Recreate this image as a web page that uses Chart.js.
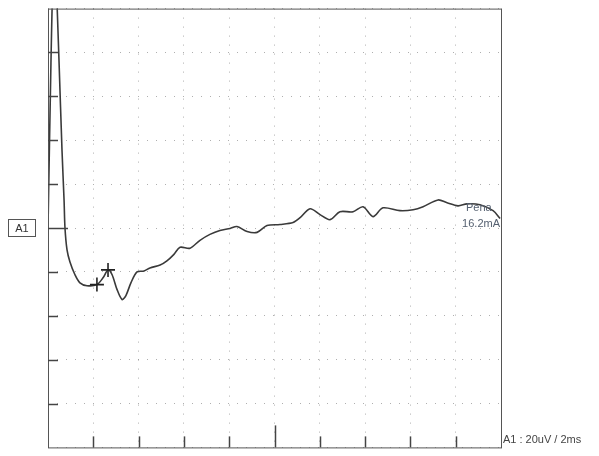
<!DOCTYPE html>
<html>
<head>
<meta charset="utf-8">
<script src="https://cdn.jsdelivr.net/npm/chart.js@4/dist/chart.umd.min.js"></script>
<style>
  html, body { margin: 0; padding: 0; background: #fff; overflow: hidden; }
  canvas { display: block; }
</style>
</head>
<body>
<canvas id="trace" width="599" height="456"></canvas>
<script>
// tiempo (ms) y amplitud (uV)
const tiempos = [0, 0.13, 0.22, 0.31, 0.40, 0.49, 0.62, 0.71, 0.75, 0.84, 0.97, 1.19, 1.41, 1.72, 2.16, 2.43, 2.65, 2.83, 3.05, 3.27, 3.44, 3.66, 3.93, 4.24, 4.50, 4.95, 5.25, 5.56, 5.83, 6.27, 6.71, 7.15, 7.59, 8.04, 8.34, 8.79, 9.23, 9.67, 10.24, 10.82, 11.13, 11.57, 12.01, 12.45, 12.89, 13.47, 13.91, 14.35, 14.79, 15.54, 16.12, 16.56, 17.22, 17.62, 18.1, 18.5, 19.07, 19.65, 19.96];
const amplitudes = [0, 75, 115, 130, 102, 75, 35, 12.4, 0, -10, -15.5, -21.3, -25, -26.3, -25.8, -22.7, -19.1, -21.3, -28.1, -32.6, -30.8, -25, -20, -19.6, -18.2, -16.9, -15, -12, -8.8, -9.2, -5.6, -2.9, -1.1, -0.2, 0.7, -1.6, -2.0, 1.1, 1.6, 2.5, 4.7, 8.8, 6.1, 3.8, 7.4, 7.4, 9.7, 5.2, 9.2, 7.9, 8.3, 9.7, 12.8, 11.5, 10.1, 11.0, 10.6, 7.9, 4.3];
// marcadores (cursores)
const marcasT = [2.16, 2.65];
const marcasV = [-25.8, -19.1];

const divX = [0, 2, 4, 6, 8, 10, 12, 14, 16, 18, 20];
const divY = [-100, -80, -60, -40, -20, 0, 20, 40, 60, 80, 100];

const puntos = tiempos.map((t, i) => ({ x: t, y: amplitudes[i] }));
const cursores = marcasT.map((t, i) => ({ x: t, y: marcasV[i] }));

// marco, marcas de division y textos
const marcoPlugin = {
    id: 'marco',
    afterDraw(chart) {
        const ctx = chart.ctx;
        const a = chart.chartArea;
        const sx = chart.scales.x, sy = chart.scales.y;
        ctx.save();
        ctx.strokeStyle = '#555';
        ctx.lineWidth = 1;
        ctx.strokeRect(a.left + 0.5, a.top + 0.5, a.right - a.left, a.bottom - a.top);

        ctx.strokeStyle = '#444';
        ctx.lineWidth = 1.5;
        divX.slice(1, -1).forEach(v => {
            const px = Math.round(sx.getPixelForValue(v)) + 0.5;
            const len = v === 10 ? 22 : 11;
            ctx.beginPath();
            ctx.moveTo(px, a.bottom);
            ctx.lineTo(px, a.bottom - len);
            ctx.stroke();
        });
        divY.slice(1, -1).forEach(v => {
            const py = Math.round(sy.getPixelForValue(v)) + 0.5;
            const len = v === 0 ? 20 : 10;
            ctx.beginPath();
            ctx.moveTo(a.left, py);
            ctx.lineTo(a.left + len, py);
            ctx.stroke();
        });

        // etiqueta A1
        const yc = sy.getPixelForValue(0);
        ctx.strokeStyle = '#555';
        ctx.lineWidth = 1;
        ctx.strokeRect(8.5, yc - 8.5, 27, 17);
        ctx.fillStyle = '#333';
        ctx.font = '11px "Liberation Sans", Arial, sans-serif';
        ctx.textBaseline = 'middle';
        ctx.textAlign = 'center';
        ctx.fillText('A1', 22, yc + 0.5);

        // ganancia
        ctx.textAlign = 'left';
        ctx.textBaseline = 'alphabetic';
        ctx.fillStyle = '#444';
        ctx.fillText('A1 : 20uV / 2ms', a.right + 2, a.bottom - 4);

        // estimulo
        ctx.fillStyle = '#556070';
        ctx.fillText('Pena', 466, 211);
        ctx.textAlign = 'right';
        ctx.fillText('16.2mA', a.right - 1, 227);
        ctx.restore();
    }
};

new Chart(document.getElementById('trace'), {
    type: 'scatter',
    data: {
        datasets: [{
            label: 'A1',
            data: puntos,
            showLine: true,
            borderColor: '#3a3a3a',
            borderWidth: 1.6,
            pointRadius: 0,
            tension: 0.3,
            order: 2
        }, {
            label: 'cursores',
            data: cursores,
            showLine: false,
            pointStyle: 'cross',
            pointRadius: 7,
            borderColor: '#222',
            borderWidth: 1.6,
            order: 1
        }]
    },
    options: {
        responsive: false,
        animation: false,
        devicePixelRatio: 1,
        layout: { padding: { left: 48, top: 5, right: 98, bottom: 6 } },
        plugins: {
            legend: { display: false },
            tooltip: { enabled: false }
        },
        scales: {
            x: {
                type: 'linear',
                min: 0, max: 20,
                ticks: { display: false, stepSize: 2 },
                grid: { color: 'rgba(110,110,110,0.55)', drawTicks: false },
                border: { display: false, dash: [1, 8] }
            },
            y: {
                type: 'linear',
                min: -100, max: 100,
                ticks: { display: false, stepSize: 20 },
                grid: { color: 'rgba(110,110,110,0.55)', drawTicks: false },
                border: { display: false, dash: [1, 8] }
            }
        }
    },
    plugins: [marcoPlugin]
});
</script>
</body>
</html>
